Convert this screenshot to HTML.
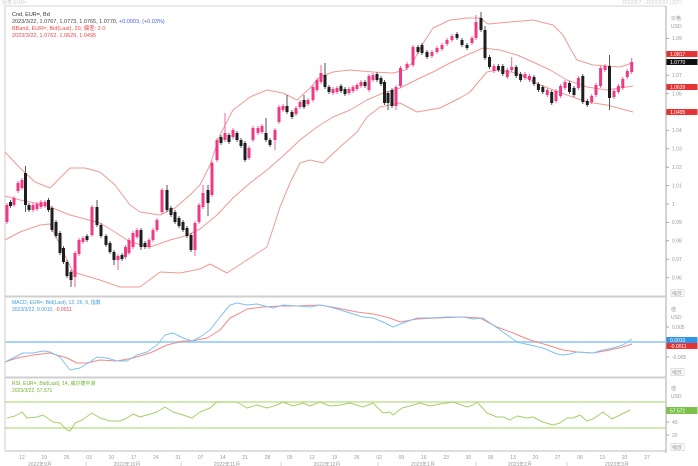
<!DOCTYPE html>
<html><head><meta charset="utf-8"><style>
html,body{margin:0;padding:0;background:#fff;width:698px;height:466px;overflow:hidden}
svg{display:block;font-family:"Liberation Sans","Noto Sans CJK SC",sans-serif}
</style></head><body>
<svg width="698" height="466" viewBox="0 0 698 466" xmlns="http://www.w3.org/2000/svg">
<rect width="698" height="466" fill="#fff"/>
<!-- top faint strip -->
<text x="2" y="4" font-size="5" fill="#d0d0d0">图表 EUR=</text>
<text x="622" y="4" font-size="5" fill="#d0d0d0">2022/9/7 - 2023/3/22 (JST)</text>

<!-- frame -->
<g fill="none">
<line x1="5" y1="6" x2="666" y2="6" stroke="#d4d4d4" stroke-width="1"/>
<line x1="5" y1="6" x2="5" y2="451" stroke="#cfcfcf" stroke-width="1"/>
<line x1="666" y1="6" x2="666" y2="453" stroke="#a8a8a8" stroke-width="1"/>
<line x1="5" y1="296.5" x2="666" y2="296.5" stroke="#cfcfcf" stroke-width="2"/>
<line x1="5" y1="377.5" x2="666" y2="377.5" stroke="#cfcfcf" stroke-width="2"/>
<line x1="5" y1="451" x2="666" y2="451" stroke="#bdbdbd" stroke-width="1"/>
</g>

<!-- Bollinger bands -->
<g fill="none" stroke="#f29a94" stroke-width="1" stroke-linejoin="round">
<polyline points="5,152 20,168 35,182 50,188 60,178 70,168 85,168 100,172 115,185 130,205 140,212 160,215 175,208 190,195 200,185 210,165 220,135 233,110 250,97 267,90 283,93 297,100 310,88 320,77 333,72 350,70 373,72 393,73 405,70 413,62 422,45 433,28 450,20 467,18 480,18 488,24 510,22 533,20 553,25 563,35 570,48 577,60 593,65 620,67 632,63"/>
<polyline points="5,196 20,200 35,203 50,207 70,215 100,223 115,232 130,242 150,247 170,240 185,236 200,229 217,215 233,198 250,183 267,170 283,156 300,140 317,127 333,117 350,110 367,100 383,93 400,88 420,78 433,72 450,63 467,55 483,48 500,50 517,55 533,62 550,70 567,80 587,87 607,90 620,88 633,86"/>
<polyline points="5,240 20,232 40,225 50,224 60,245 73,272 100,280 120,287 140,287 160,272 180,273 200,269 210,264 227,273 250,258 267,247 280,207 290,183 300,163 310,160 323,163 340,147 357,132 367,117 380,107 400,103 417,112 440,108 460,98 470,92 480,80 487,72 497,70 517,73 540,85 567,95 587,102 607,105 633,112"/>
</g>

<!-- candle wicks -->
<path fill="none" stroke="#f0639c" stroke-width="1" d="M7 203V224 M14 196V207 M18 181V193 M22 178V190 M33 203V212 M37 202V211 M41 200V209 M45 200V208 M75 251V287 M79 238V256 M83 236V244 M92 205V237 M118 254V270 M125.5 245V259 M129 238V255 M133 231V249 M137 228V239 M149 238V249 M153 228V242 M157 218V232 M162 188V214 M195 221V256 M199 203V224 M203 185V209 M212 161V197 M217 138V162 M225 113V142 M233 128V139 M249 146V160 M253 126V142 M258 126V135 M262 124V134 M275 128V150 M279 105V124 M283 104V112 M296 106V116 M300 100V109 M308 98V106 M313 85V102 M317 78V92 M321 65V84 M333 87V95 M337 86V94 M349 87V95 M353 85V93 M357 83V91 M361 80V88 M369 74V92 M373 73V82 M396 85V110 M400.5 66V88 M407 62V70 M413 45V67 M432 50V58 M437 46V54 M442 43V51 M447 38V46 M452 34V42 M472 36V45 M476 15V40 M494 64V73 M507.3 68V79 M511.7 57V72 M525 72V80 M529.5 74V82 M547.3 88V97 M556 89V103 M560.6 84V98 M565 80V90 M578.4 76V90 M591.7 94V104 M596 83V97 M600.6 66V88 M605 64V72 M614 89V99 M618.4 84V94 M622.8 77V90 M627.3 69V79 M631.7 58V74"/>
<path fill="none" stroke="#555" stroke-width="1" d="M10.5 200V208 M25.5 166V212 M29 203V212 M48.5 198V212 M52 206V232 M56 220V238 M60 231V255 M63.5 246V264 M67 260V278 M71 270V287 M87 234V242 M97 200V227 M101 223V238 M106 234V247 M110 241V254 M114 250V265 M122 253V261 M141 228V250 M145 241V249 M167 185V212 M171 206V217 M175 210V224 M179 216V228 M183 220V232 M187 226V238 M191 233V252 M208 185V216 M221 135V145 M229 133V144 M237 131V142 M241 138V148 M245 141V162 M266 118V142 M270 138V147 M287 95V114 M292 110V119 M304 95V109 M325 63V89 M329 85V94 M341 84V93 M345 87V96 M365 80V88 M377 72V82 M381 76V86 M384.5 80V105 M388 91V110 M392 88V108 M418 45V54 M422 43V55 M427 50V59 M457 32V40 M462 38V47 M467 43V50 M481 12V32 M485 26V60 M489.5 55V69 M498.4 64V72 M502.8 64V76 M516.2 65V78 M520.6 72V82 M534 75V86 M538.4 82V92 M542.8 85V94 M551.7 90V105 M569.5 81V94 M574 86V97 M582.8 74V104 M587.3 99V107 M609.5 55V110"/>

<!-- candle bodies pink -->
<path fill="#ec3a85" d="M5.5 205h3V222h-3z M12.5 198h3V205h-3z M16.5 183h3V191h-3z M20.5 180h3V188h-3z M31.5 205h3V210h-3z M35.5 204h3V209h-3z M39.5 202h3V207h-3z M43.5 202h3V206h-3z M73.5 253h3V277h-3z M77.5 240h3V254h-3z M81.5 238h3V242h-3z M90.5 207h3V235h-3z M116.5 256h3V260h-3z M124 247h3V257h-3z M127.5 240h3V253h-3z M131.5 233h3V247h-3z M135.5 230h3V237h-3z M147.5 240h3V247h-3z M151.5 230h3V240h-3z M155.5 220h3V230h-3z M160.5 190h3V212h-3z M193.5 223h3V250h-3z M197.5 205h3V222h-3z M201.5 193h3V207h-3z M210.5 163h3V195h-3z M215.5 140h3V160h-3z M223.5 133h3V140h-3z M231.5 130h3V137h-3z M247.5 148h3V158h-3z M251.5 128h3V140h-3z M256.5 128h3V133h-3z M260.5 126h3V132h-3z M273.5 130h3V140h-3z M277.5 107h3V122h-3z M281.5 106h3V110h-3z M294.5 108h3V114h-3z M298.5 102h3V107h-3z M306.5 100h3V104h-3z M311.5 87h3V100h-3z M315.5 80h3V90h-3z M319.5 73h3V82h-3z M331.5 89h3V93h-3z M335.5 88h3V92h-3z M347.5 89h3V93h-3z M351.5 87h3V91h-3z M355.5 85h3V89h-3z M359.5 82h3V86h-3z M367.5 76h3V90h-3z M371.5 75h3V80h-3z M394.5 87h3V106h-3z M399 68h3V86h-3z M405.5 64h3V68h-3z M411.5 47h3V65h-3z M430.5 52h3V56h-3z M435.5 48h3V52h-3z M440.5 45h3V49h-3z M445.5 40h3V44h-3z M450.5 36h3V40h-3z M470.5 38h3V43h-3z M474.5 22h3V38h-3z M492.5 66h3V71h-3z M505.8 70h3V77h-3z M510.2 67h3V70h-3z M523.5 74h3V78h-3z M528 76h3V80h-3z M545.8 90h3V95h-3z M554.5 91h3V101h-3z M559.1 86h3V96h-3z M563.5 82h3V88h-3z M576.9 78h3V88h-3z M590.2 96h3V102h-3z M594.5 85h3V95h-3z M599.1 68h3V86h-3z M603.5 66h3V70h-3z M612.5 91h3V97h-3z M616.9 86h3V92h-3z M621.3 79h3V88h-3z M625.8 71h3V77h-3z M630.2 62h3V72h-3z"/>
<!-- candle bodies black -->
<path fill="#1e1e1e" d="M9 202h3V206h-3z M24 173h3V205h-3z M27.5 205h3V210h-3z M47 200h3V210h-3z M50.5 208h3V230h-3z M54.5 222h3V236h-3z M58.5 233h3V253h-3z M62 248h3V262h-3z M65.5 262h3V276h-3z M69.5 272h3V280h-3z M85.5 236h3V240h-3z M95.5 207h3V225h-3z M99.5 225h3V236h-3z M104.5 236h3V245h-3z M108.5 243h3V252h-3z M112.5 252h3V260h-3z M120.5 255h3V259h-3z M139.5 230h3V247h-3z M143.5 243h3V247h-3z M165.5 190h3V210h-3z M169.5 208h3V215h-3z M173.5 212h3V222h-3z M177.5 218h3V226h-3z M181.5 222h3V230h-3z M185.5 228h3V236h-3z M189.5 235h3V250h-3z M206.5 190h3V203h-3z M219.5 137h3V143h-3z M227.5 135h3V142h-3z M235.5 133h3V140h-3z M239.5 140h3V146h-3z M243.5 143h3V160h-3z M264.5 133h3V140h-3z M268.5 140h3V145h-3z M285.5 106h3V112h-3z M290.5 112h3V117h-3z M302.5 100h3V107h-3z M323.5 75h3V87h-3z M327.5 87h3V92h-3z M339.5 86h3V91h-3z M343.5 89h3V94h-3z M363.5 82h3V86h-3z M375.5 74h3V80h-3z M379.5 78h3V84h-3z M383 82h3V103h-3z M386.5 93h3V103h-3z M390.5 90h3V106h-3z M416.5 47h3V52h-3z M420.5 45h3V53h-3z M425.5 52h3V57h-3z M455.5 34h3V38h-3z M460.5 40h3V45h-3z M465.5 45h3V48h-3z M479.5 18h3V30h-3z M483.5 30h3V58h-3z M488 57h3V67h-3z M496.9 66h3V70h-3z M501.3 66h3V74h-3z M514.7 67h3V76h-3z M519.1 74h3V80h-3z M532.5 77h3V84h-3z M536.9 84h3V90h-3z M541.3 87h3V92h-3z M550.2 92h3V103h-3z M568 83h3V92h-3z M572.5 88h3V95h-3z M581.3 76h3V102h-3z M585.8 101h3V105h-3z M608 66h3V98h-3z"/>

<!-- main legend -->
<g font-size="5.5">
<text x="12" y="16" fill="#333">Cnd, EUR=, Bd</text>
<text x="12" y="23" fill="#444">2023/3/22, 1.0767, 1.0773, 1.0765, 1.0770, <tspan fill="#4a5ee8">+0.0003, (+0.03%)</tspan></text>
<text x="12" y="30" fill="#e84848">BBand, EUR=, Bid(Last), 20, 偏差: 2.0</text>
<text x="12" y="37" fill="#e84848">2023/3/22, 1.0762, 1.0629, 1.0495</text>
</g>

<!-- main axis labels -->
<g font-size="5" fill="#9a9a9a">
<text x="671" y="20">价格</text>
<text x="671" y="28">USD</text>
<text x="672" y="40">1.09</text>
<text x="672" y="77">1.07</text>
<text x="672" y="95.5">1.06</text>
<text x="672" y="132">1.04</text>
<text x="672" y="150.5">1.03</text>
<text x="672" y="169">1.02</text>
<text x="672" y="187.5">1.01</text>
<text x="672" y="206">1</text>
<text x="672" y="224">0.99</text>
<text x="672" y="242.5">0.98</text>
<text x="672" y="261">0.97</text>
<text x="672" y="279.5">0.96</text>
<text x="672" y="295">缩放</text>
</g>
<path stroke="#aaa" stroke-width="1" d="M666 38.4h3M666 75.2h3M666 93.6h3M666 130.4h3M666 148.8h3M666 167.2h3M666 185.6h3M666 204h3M666 222.4h3M666 240.8h3M666 259.2h3M666 277.6h3"/>
<rect x="671" y="289.5" width="13" height="7" fill="none" stroke="#ccc" stroke-width="0.6"/>
<g font-size="5" fill="#fff">
<rect x="666.5" y="51" width="31" height="6" fill="#e53232"/>
<text x="670" y="56">1.0817</text>
<rect x="666.5" y="59" width="31" height="6" fill="#111"/>
<text x="670" y="64">1.0770</text>
<rect x="666.5" y="84" width="31" height="6" fill="#e53232"/>
<text x="670" y="89">1.0629</text>
<rect x="666.5" y="109" width="31" height="6" fill="#e53232"/>
<text x="670" y="114">1.0495</text>
</g>

<!-- MACD panel -->
<line x1="5" y1="342" x2="666" y2="342" stroke="#a8d5f5" stroke-width="2"/>
<g fill="none" stroke-width="1" stroke-linejoin="round">
<polyline stroke="#f28a8a" points="5,362 17,358 33,355 50,353 67,358 77,363 87,363 100,360 117,361 133,358 150,353 167,345 183,341 192,341 207,338 220,330 230,318 240,313 247,309 263,307 280,306 297,306 320,305 337,308 357,312 373,314 390,318 400,322 417,319 437,318 463,317 480,318 497,327 513,333 530,340 547,345 563,350 577,352 593,353 610,350 623,347 632,344"/>
<polyline stroke="#80c2f0" points="5,362 13,358 23,353 33,353 43,351 50,352 60,357 70,370 80,368 90,362 97,357 107,358 117,361 127,361 137,355 147,352 157,345 165,335 173,333 183,338 192,341 200,337 210,330 220,317 230,305 237,303 247,305 257,304 273,308 283,305 297,306 310,307 320,305 330,307 347,312 363,317 373,318 383,322 393,327 403,323 417,318 430,318 447,317 463,317 473,319 483,318 493,325 503,332 517,342 530,345 543,348 557,354 563,355 570,354 577,352 593,353 603,350 613,348 623,345 632,339"/>
</g>
<g font-size="5">
<text x="12" y="304" fill="#3d9be6">MACD, EUR=, Bid(Last), 12, 26, 9, 指数</text>
<text x="12" y="311" fill="#3d9be6">2023/3/22, 0.0010, <tspan fill="#e84848">-0.0011</tspan></text>
</g>
<g font-size="5" fill="#9a9a9a">
<text x="671" y="311">值</text>
<text x="671" y="319">USD</text>
<text x="672" y="329">0.005</text>
<text x="672" y="359">-0.005</text>
<text x="672" y="374">缩放</text>
</g>
<rect x="671" y="368.5" width="13" height="7" fill="none" stroke="#ccc" stroke-width="0.6"/>
<path stroke="#aaa" stroke-width="1" d="M666 327h3M666 357h3"/>
<g font-size="5" fill="#fff">
<rect x="666.5" y="337" width="31" height="6" fill="#2f95e6"/>
<text x="670" y="342">0.0010</text>
<rect x="666.5" y="343" width="31" height="6" fill="#e53232"/>
<text x="670" y="348">-0.0011</text>
</g>

<!-- RSI panel -->
<g stroke="#b6de80" stroke-width="1.2">
<line x1="5" y1="402" x2="666" y2="402"/>
<line x1="5" y1="428" x2="666" y2="428"/>
</g>
<polyline fill="none" stroke="#a6d06a" stroke-width="1" stroke-linejoin="round" points="7,418 15,416 22,412 27,418 37,417 43,415 53,422 60,423 67,430 70,431 75,423 82,420 92,413 100,418 110,421 120,421 127,418 133,414 140,417 147,415 157,412 165,407 173,412 183,415 192,418 200,412 210,408 217,402 227,402 237,402 247,408 257,405 267,408 277,405 283,402 293,406 303,403 310,406 320,402 330,406 340,405 350,403 363,407 373,403 383,413 390,412 393,415 402,408 410,406 420,403 430,406 440,404 453,402 467,407 473,405 477,402 487,413 497,417 503,417 510,420 517,416 527,418 533,417 543,422 553,425 560,423 567,418 573,418 580,415 587,421 593,419 603,412 612,419 620,415 630,410"/>
<g font-size="5" fill="#6bb02c">
<text x="12" y="385">RSI, EUR=, Bid(Last), 14, 威尔德平滑</text>
<text x="12" y="392">2023/3/22, 57.571</text>
</g>
<g font-size="5" fill="#9a9a9a">
<text x="671" y="390">值</text>
<text x="671" y="398">USD</text>
<text x="672" y="424">40</text>
<text x="672" y="437">20</text>
<text x="672" y="449">缩放</text>
</g>
<rect x="671" y="443.5" width="13" height="7" fill="none" stroke="#ccc" stroke-width="0.6"/>
<path stroke="#aaa" stroke-width="1" d="M666 422h3M666 435h3"/>
<rect x="666.5" y="407" width="31" height="7" fill="#7cc24a"/>
<text x="670" y="412.5" font-size="5" fill="#fff">57.571</text>

<!-- x axis -->
<g font-size="5" fill="#9a9a9a" text-anchor="middle">
<text x="22" y="459">12</text><text x="44.3" y="459">19</text><text x="66.6" y="459">26</text><text x="89" y="459">03</text><text x="111.3" y="459">10</text><text x="133.6" y="459">17</text><text x="155.9" y="459">24</text><text x="178.2" y="459">31</text><text x="200.6" y="459">07</text><text x="222.9" y="459">14</text><text x="245.2" y="459">21</text><text x="267.5" y="459">28</text><text x="289.8" y="459">05</text><text x="312.2" y="459">12</text><text x="334.5" y="459">19</text><text x="356.8" y="459">26</text><text x="379.1" y="459">02</text><text x="401.4" y="459">09</text><text x="423.8" y="459">16</text><text x="446.1" y="459">23</text><text x="468.4" y="459">30</text><text x="490.7" y="459">06</text><text x="513" y="459">13</text><text x="535.4" y="459">20</text><text x="557.7" y="459">27</text><text x="580" y="459">06</text><text x="602.3" y="459">13</text><text x="624.6" y="459">20</text><text x="647" y="459">27</text>
<text x="40" y="466">2022年9月</text><text x="127" y="466">2022年10月</text><text x="227" y="466">2022年11月</text><text x="327" y="466">2022年12月</text><text x="423" y="466">2023年1月</text><text x="520" y="466">2023年2月</text><text x="617" y="466">2023年3月</text>
<text x="86" y="466">|</text><text x="181" y="466">|</text><text x="281" y="466">|</text><text x="378" y="466">|</text><text x="476" y="466">|</text><text x="567" y="466">|</text>
</g>
</svg>
</body></html>
